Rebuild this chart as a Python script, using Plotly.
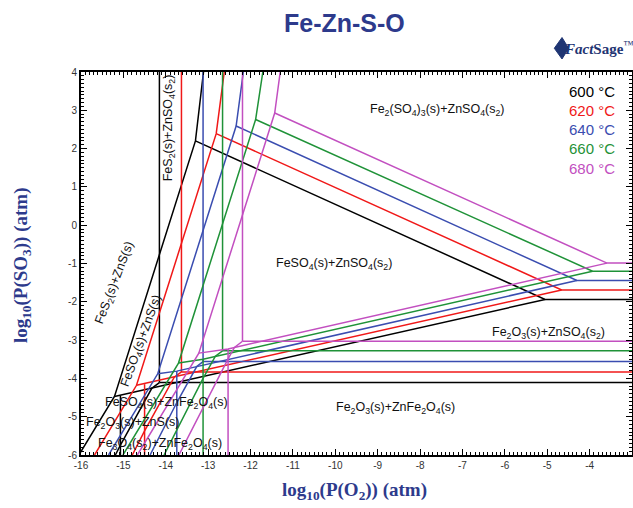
import plotly.graph_objects as go

# ---------------- data ----------------
temps = [600, 620, 640, 660, 680]
colors = ["#000000", "#F01818", "#3A4DB0", "#1F9238", "#C24FC0"]

# ZnS / ZnSO4 vertical boundary (log pO2) and ZnSO4 / ZnFe2O4 boundary (log pSO3)
zn_x = [-14.15, -13.63, -13.12, -12.66, -12.19]
zn_y = [-4.11, -3.83, -3.56, -3.28, -3.03]

# FeS2 / FeSO4 / Fe2(SO4)3 triple point and top intercept of FeS2 / Fe2(SO4)3
kink_x = [-13.30, -12.81, -12.34, -11.88, -11.43]
kink_y = [2.20, 2.39, 2.59, 2.76, 2.93]
top_x = [-13.11, -12.62, -12.17, -11.71, -11.30]

# FeSO4 / Fe2(SO4)3 / Fe2O3 junction
junc_x = [-5.05, -4.66, -4.30, -3.93, -3.59]
junc_y = [-1.94, -1.69, -1.445, -1.20, -0.99]

# Fe3O4 / Fe2O3 vertical boundary and its upper end
xv = [-15.07, -14.50, -13.74, -13.12, -12.53]
xv_top_y = [-4.45, -4.15, -3.81, -3.50, -3.23]

# lower FeS2 triple point and bottom intercept
tri_x = [-15.21, -14.69, -14.19, -13.70, -13.22]
tri_y = [-4.47, -4.18, -3.88, -3.60, -3.34]
fes2_bot_x = [-16.05, -15.68, -15.35, -15.01, -14.67]

# ZnS / ZnFe2O4 boundary
zns_bend_x = [-14.33, -13.80, -13.27, -12.83, -12.38]
zns_bend_y = [-4.26, -3.97, -3.69, -3.42, -3.19]
zns_xv_y = [-5.74, -5.37, -4.63, -4.00, -3.49]
zns_bot_x = [-15.19, -14.79, -14.37, -14.04, -13.69]

x_ticks = list(range(-16, -2))
y_ticks = list(range(-6, 5))

X_MIN, X_MAX, Y_MIN, Y_MAX = -16, -3, -6, 4

fig = go.Figure()

for i, T in enumerate(temps):
    segs = [
        [(zn_x[i], Y_MAX + 0.2), (zn_x[i], zn_y[i])],
        [(zn_x[i], zn_y[i]), (X_MAX + 0.2, zn_y[i])],
        [(zn_x[i], zn_y[i]), (zns_bend_x[i], zns_bend_y[i]), (xv[i], zns_xv_y[i]), (zns_bot_x[i], Y_MIN)],
        [(fes2_bot_x[i], Y_MIN), (tri_x[i], tri_y[i]), (kink_x[i], kink_y[i]), (top_x[i], Y_MAX)],
        [(kink_x[i], kink_y[i]), (junc_x[i], junc_y[i]), (X_MAX + 0.2, junc_y[i])],
        [(junc_x[i], junc_y[i]), (xv[i], xv_top_y[i]), (tri_x[i], tri_y[i])],
        [(xv[i], xv_top_y[i]), (xv[i], Y_MIN)],
    ]
    xs, ys = [], []
    for s in segs:
        xs += [p[0] for p in s] + [None]
        ys += [p[1] for p in s] + [None]
    fig.add_trace(go.Scatter(x=xs, y=ys, mode="lines",
                             line=dict(color=colors[i], width=1.5),
                             name=f"{T} °C", hoverinfo="skip"))

# ---------------- region labels ----------------
lab_font = dict(family="Liberation Sans, Arial", size=12.5, color="#111")
regions = [
    ("Fe<sub>2</sub>(SO<sub>4</sub>)<sub>3</sub>(s)+ZnSO<sub>4</sub>(s<sub>2</sub>)", -7.60, 3.00, 0),
    ("FeSO<sub>4</sub>(s)+ZnSO<sub>4</sub>(s<sub>2</sub>)", -10.02, -1.00, 0),
    ("Fe<sub>2</sub>O<sub>3</sub>(s)+ZnSO<sub>4</sub>(s<sub>2</sub>)", -4.98, -2.81, 0),
    ("Fe<sub>2</sub>O<sub>3</sub>(s)+ZnFe<sub>2</sub>O<sub>4</sub>(s)", -8.58, -4.77, 0),
    ("FeS<sub>2</sub>(s)+ZnSO<sub>4</sub>(s<sub>2</sub>)", -13.93, 2.55, -90),
    ("FeS<sub>2</sub>(s)+ZnS(s)", -15.19, -1.52, -69),
    ("FeSO<sub>4</sub>(s)+ZnS(s)", -14.57, -3.02, -70),
    ("FeSO<sub>4</sub>(s)+ZnFe<sub>2</sub>O<sub>4</sub>(s)", -13.98, -4.64, 0),
    ("Fe<sub>2</sub>O<sub>3</sub>(s)+ZnS(s)", -14.79, -5.16, 0),
    ("Fe<sub>3</sub>O<sub>4</sub>(s<sub>2</sub>)+ZnFe<sub>2</sub>O<sub>4</sub>(s)", -14.13, -5.71, 0),
]
for txt, x, y, ang in regions:
    fig.add_annotation(x=x, y=y, xref="x", yref="y", text=txt, showarrow=False,
                       textangle=ang, font=lab_font)

# ---------------- temperature legend ----------------
leg_y = [3.48, 2.99, 2.50, 2.00, 1.48]
for i, T in enumerate(temps):
    fig.add_annotation(x=0.973, y=leg_y[i], xref="paper", yref="y", text=f"{T} °C",
                       showarrow=False, xanchor="right", yanchor="middle",
                       font=dict(family="Liberation Sans, Arial", size=15, color=colors[i]))

navy = "#2D3A8C"
fig.add_annotation(x=0.479, y=1.128, xref="paper", yref="paper", text="<b>Fe-Zn-S-O</b>",
                   showarrow=False, xanchor="center", yanchor="middle",
                   font=dict(family="Liberation Sans, Arial", size=25, color=navy))
# FactSage logo: small mark + word
fig.add_shape(type="path", xref="paper", yref="paper",
              path="M 0.859 1.062 L 0.873 1.090 L 0.885 1.062 L 0.873 1.034 Z",
              fillcolor="#1F3573", line=dict(color="#1F3573", width=1))
fig.add_annotation(x=0.940, y=1.062, xref="paper", yref="paper",
                   text="<b><i>Fact</i></b><b>Sage</b><sup>™</sup>",
                   showarrow=False, xanchor="center", yanchor="middle",
                   font=dict(family="Liberation Serif, serif", size=15, color="#1F3573"))
fig.add_annotation(x=0.497, y=-0.095, xref="paper", yref="paper",
                   text="<b>log<sub>10</sub>(P(O<sub>2</sub>)) (atm)</b>",
                   showarrow=False, xanchor="center", yanchor="middle",
                   font=dict(family="Liberation Serif, serif", size=19, color=navy))
fig.add_annotation(x=-0.107, y=0.496, xref="paper", yref="paper", textangle=-90,
                   text="<b>log<sub>10</sub>(P(SO<sub>3</sub>)) (atm)</b>",
                   showarrow=False, xanchor="center", yanchor="middle",
                   font=dict(family="Liberation Serif, serif", size=19, color=navy))

axis_common = dict(showline=True, linewidth=2, linecolor="black", mirror="allticks",
                   ticks="inside", ticklen=6, tickwidth=1.3, tickcolor="black",
                   showgrid=False, zeroline=False, automargin=False,
                   tickfont=dict(family="Liberation Sans, Arial", size=10, color="#333"),
                   minor=dict(ticks="inside", ticklen=3, tickwidth=1, tickcolor="black", dtick=0.1, showgrid=False))

fig.update_xaxes(range=[X_MIN, X_MAX], tickvals=x_ticks, ticktext=[str(v) for v in x_ticks], **axis_common)
fig.update_yaxes(range=[Y_MIN, Y_MAX], tickvals=y_ticks, ticktext=[str(v) for v in y_ticks], **axis_common)

fig.update_layout(width=633, height=508, margin=dict(l=81, r=1, t=72, b=53, autoexpand=False),
                  plot_bgcolor="white", paper_bgcolor="white", showlegend=False)

# remove the default page margin so the 633x508 figure fills the window exactly
fig.write_html("out.html", config={"displayModeBar": False},
               post_script="document.body.style.margin='0';document.body.style.overflow='hidden';")
